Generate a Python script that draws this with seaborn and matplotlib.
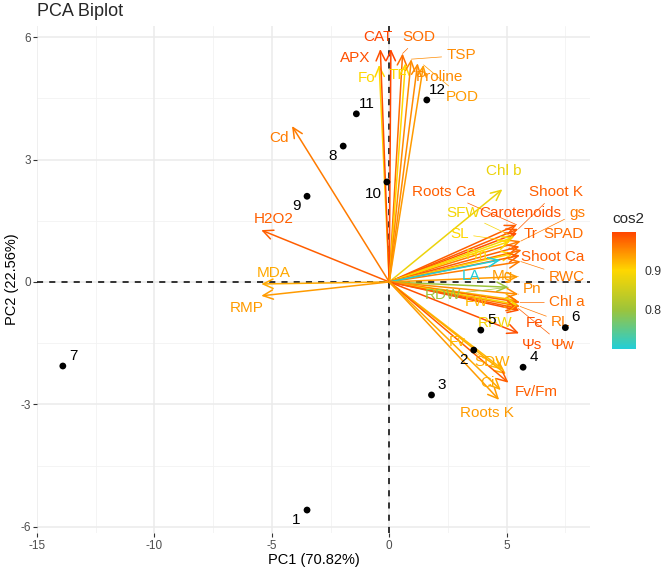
import matplotlib
matplotlib.use("Agg")
import matplotlib.pyplot as plt
from matplotlib.colors import LinearSegmentedColormap, Normalize
from matplotlib.cm import ScalarMappable
import pandas as pd
import seaborn as sns

# individuals (scores on PC1 / PC2)
obs_names = [str(i) for i in range(1, 13)]
obs_pc1 = [-3.5, 3.6, 1.8, 5.7, 3.9, 7.5, -13.9, -1.96, -3.5, -0.1, -1.4, 1.6]
obs_pc2 = [-5.59, -1.67, -2.77, -2.09, -1.18, -1.12, -2.06, 3.33, 2.1, 2.45, 4.12, 4.46]

# variables (arrow tips) and their cos2
var_names = ["Fo", "APX", "CAT", "SOD", "TF", "TSP", "Proline", "POD",
             "Cd", "H2O2", "MDA", "RMP", "Chl b",
             "Roots Ca", "Shoot K", "Carotenoids", "gs", "SFW", "SL", "Tr", "SPAD",
             "Fm", "Shoot Ca", "RWC", "LA", "Mg",
             "RDW", "Pn", "FW", "Chl a", "RL", "Fe", "RFW", "Ψw", "Ψs",
             "Fv", "SDW", "Fv/Fm", "Ci", "Roots K"]
var_pc1 = [-0.43, -0.38, 0.07, 0.57, 0.69, 0.94, 1.21, 1.46,
           -4.14, -5.45, -5.45, -5.45, 4.82,
           5.43, 5.5, 5.45, 5.6, 5.3, 5.15, 5.55, 5.64,
           5.3, 5.57, 5.6, 4.72, 5.5,
           5.08, 5.5, 5.45, 5.57, 5.57, 5.55, 5.45, 5.5, 5.53,
           4.85, 4.97, 5.08, 4.75, 4.68]
var_pc2 = [5.32, 5.71, 5.71, 5.60, 5.36, 5.46, 5.36, 5.32,
           3.82, 1.27, -0.05, -0.34, 2.27,
           1.40, 1.30, 1.20, 1.0, 1.1, 1.0, 0.87, 0.78,
           0.7, 0.65, 0.5, 0.54, 0.13,
           -0.13, -0.3, -0.45, -0.5, -0.6, -0.7, -0.55, -0.65, -1.26,
           -2.15, -2.26, -2.47, -2.65, -2.89]
var_cos2 = [0.90, 0.99, 0.997, 0.97, 0.90, 0.95, 0.95, 0.94,
            0.96, 0.98, 0.93, 0.94, 0.88,
            0.98, 0.98, 0.99, 0.96, 0.89, 0.90, 0.98, 0.97,
            0.90, 0.98, 0.96, 0.70, 0.94,
            0.80, 0.95, 0.92, 0.97, 0.96, 0.99, 0.89, 0.98, 0.99,
            0.92, 0.93, 0.98, 0.93, 0.94]

# repelled label positions (as ggrepel placed them)
label_pos = {
    "Fo": (-0.98, 5.0), "APX": (-1.45, 5.5), "CAT": (-0.47, 6.0), "SOD": (1.28, 6.0),
    "TF": (0.37, 5.07), "TSP": (3.06, 5.55), "Proline": (2.13, 5.02), "POD": (3.1, 4.53),
    "Cd": (-4.68, 3.52), "H2O2": (-4.94, 1.54), "MDA": (-4.94, 0.22), "RMP": (-6.05, -0.64),
    "Chl b": (4.86, 2.72), "Roots Ca": (2.3, 2.2), "Shoot K": (7.1, 2.2),
    "Carotenoids": (5.6, 1.69), "gs": (8.0, 1.69), "SFW": (3.15, 1.69), "SL": (3.0, 1.18),
    "Tr": (6.0, 1.18), "SPAD": (7.4, 1.18), "Fm": (3.73, 0.66), "Shoot Ca": (6.98, 0.62),
    "RWC": (7.56, 0.13), "LA": (3.5, 0.15), "Mg": (4.8, 0.15), "RDW": (2.3, -0.32),
    "Pn": (6.1, -0.18), "FW": (3.7, -0.48), "Chl a": (7.56, -0.5), "RL": (7.3, -0.97),
    "Fe": (6.2, -1.0), "RFW": (4.5, -1.0), "Ψw": (7.4, -1.55), "Ψs": (6.1, -1.55),
    "Fv": (2.9, -1.47), "SDW": (4.4, -1.95), "Fv/Fm": (6.27, -2.7), "Ci": (4.2, -2.47),
    "Roots K": (4.17, -3.2),
}
with_segment = {"SOD", "TSP", "POD", "Roots Ca", "Shoot K", "gs", "SFW", "SL", "RWC",
                "Pn", "Chl a", "RL", "Ψw", "RDW", "RFW", "Fv", "LA", "Mg"}
obs_label_dir = {"1": (-1, -1), "2": (-1, -1), "8": (-1, -1), "9": (-1, -1), "10": (-1.3, -1.2)}

obs = pd.DataFrame({"name": obs_names, "PC1": obs_pc1, "PC2": obs_pc2})
var = pd.DataFrame({"name": var_names, "PC1": var_pc1, "PC2": var_pc2, "cos2": var_cos2})

sns.set_theme(style="white")
plt.rcParams["font.family"] = ["Liberation Sans", "DejaVu Sans"]
plt.rcParams["axes.unicode_minus"] = False

cmap = LinearSegmentedColormap.from_list(
    "cos2", [(0.0, "#22CED8"), (0.337, "#9DC43A"), (0.673, "#FFD700"), (1.0, "#FF4500")])
norm = Normalize(vmin=var["cos2"].min(), vmax=var["cos2"].max())

fig = plt.figure(figsize=(6.61, 5.71), dpi=100)
ax = fig.add_axes([37 / 661, (571 - 533.3) / 571, 553 / 661, 507.6 / 571])

# grid like ggplot theme_minimal
for v in [-12.5, -7.5, -2.5, 2.5, 7.5]:
    ax.axvline(v, color="#F2F2F2", lw=0.6, zorder=0)
for v in [-4.5, -1.5, 1.5, 4.5]:
    ax.axhline(v, color="#F2F2F2", lw=0.6, zorder=0)
for v in [-15, -10, -5, 0, 5]:
    ax.axvline(v, color="#EBEBEB", lw=1.1, zorder=0)
for v in [-6, -3, 0, 3, 6]:
    ax.axhline(v, color="#EBEBEB", lw=1.1, zorder=0)

ax.axhline(0, color="black", lw=1.1, ls=(0, (4, 4)), zorder=1)
ax.axvline(0, color="black", lw=1.1, ls=(0, (4, 4)), zorder=1)

# variable arrows
for _, r in var.iterrows():
    c = cmap(norm(r["cos2"]))
    ax.annotate("", xy=(r["PC1"], r["PC2"]), xytext=(0, 0),
                arrowprops=dict(arrowstyle="->,head_length=0.6,head_width=0.28",
                                color=c, lw=1.1, shrinkA=0, shrinkB=0), zorder=2)

for _, r in var.iterrows():
    c = cmap(norm(r["cos2"]))
    lx, ly = label_pos[r["name"]]
    if r["name"] in with_segment:
        ax.annotate(r["name"], xy=(r["PC1"], r["PC2"]), xytext=(lx, ly), color=c,
                    fontsize=11, ha="center", va="center", zorder=3,
                    arrowprops=dict(arrowstyle="-", color=c, lw=0.5, shrinkA=1, shrinkB=0))
    else:
        ax.text(lx, ly, r["name"], color=c, fontsize=11, ha="center", va="center", zorder=3)

# individuals
sns.scatterplot(data=obs, x="PC1", y="PC2", color="black", s=24, edgecolor="none",
                ax=ax, zorder=4, legend=False)
for _, r in obs.iterrows():
    dx, dy = obs_label_dir.get(r["name"], (1, 1))
    ax.text(r["PC1"] + 0.45 * dx, r["PC2"] + 0.25 * dy, r["name"], fontsize=11,
            color="black", ha="center", va="center", zorder=4)

ax.set_xlim(-14.97, 8.55)
ax.set_ylim(-6.16, 6.28)
ax.set_xticks([-15, -10, -5, 0, 5])
ax.set_yticks([-6, -3, 0, 3, 6])
ax.tick_params(axis="both", length=3, width=0.8, color="#333333", labelsize=8.5,
               labelcolor="#4D4D4D", pad=1.5, bottom=True, left=True)
for s in ax.spines.values():
    s.set_visible(False)
ax.set_xlabel("PC1 (70.82%)", fontsize=10.5, color="black", labelpad=1)
ax.set_ylabel("PC2 (22.56%)", fontsize=10.5, color="black", labelpad=1)
fig.text(37 / 661, 1 - 11 / 571, "PCA Biplot", fontsize=13, ha="left", va="center")

# colourbar legend
cax = fig.add_axes([612 / 661, (571 - 349) / 571, 24 / 661, 117 / 571])
cb = fig.colorbar(ScalarMappable(norm=norm, cmap=cmap), cax=cax, ticks=[0.8, 0.9])
cb.outline.set_visible(False)
cb.ax.tick_params(length=4, width=0.6, color="white", direction="in", labelsize=8.8,
                  labelcolor="#333333", pad=6)
cb.set_ticklabels(["0.8", "0.9"])
fig.text(612 / 661, 1 - 219 / 571, "cos2", fontsize=11, ha="left", va="center")

plt.savefig("out.png", dpi=100)
plt.close()
